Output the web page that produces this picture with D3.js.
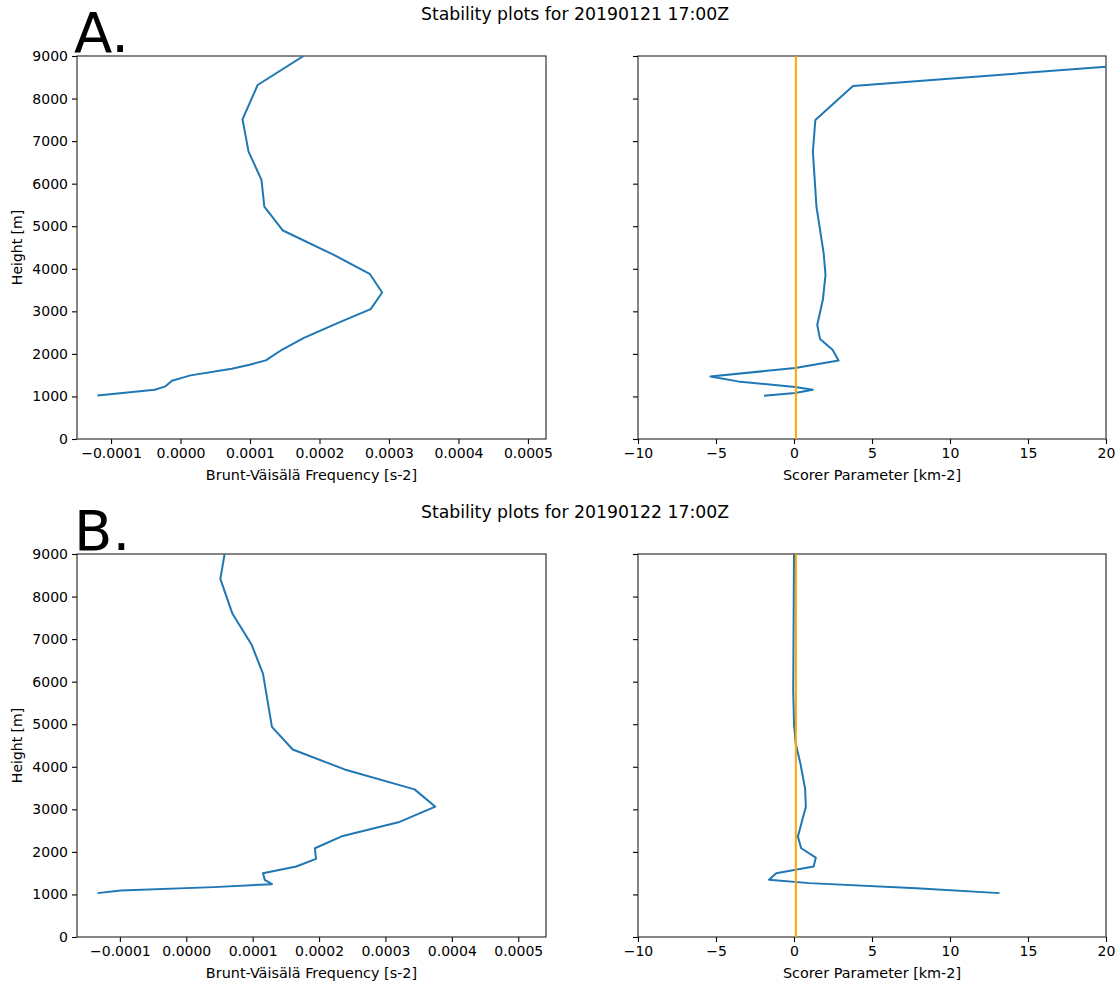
<!DOCTYPE html>
<html>
<head>
<meta charset="utf-8">
<script src="https://cdn.jsdelivr.net/npm/d3@7"></script>
<style>
  body { margin: 0; background: #fff; }
  text { font-family: "DejaVu Sans", sans-serif; fill: #000; }
</style>
</head>
<body>
<div id="chart"></div>
<script>
const width = 1119;
const height = 987;

// Case A: 20190121 17:00Z
const heightsA_bv = [9000, 8319, 7513, 6754, 6089, 5462, 4899, 4328, 3882, 3443, 3052, 2739, 2371, 2097, 1847, 1745, 1651, 1495, 1370, 1237, 1158, 1025];
const bvA = [0.000177, 0.000111, 0.0000892, 0.0000979, 0.0001165, 0.0001206, 0.0001474, 0.0002206, 0.0002722, 0.0002902, 0.0002737, 0.0002284, 0.0001768, 0.0001459, 0.0001227, 0.0000995, 0.0000737, 0.0000144, -0.0000124, -0.0000216, -0.0000371, -0.0001196];
const heightsA_sc = [8749, 8296, 7497, 6754, 5462, 4367, 3858, 3271, 2684, 2348, 2097, 1847, 1667, 1471, 1354, 1221, 1158, 1080, 1017];
const scorerA = [20.0, 3.78, 1.37, 1.21, 1.44, 1.90, 2.02, 1.85, 1.49, 1.67, 2.47, 2.86, 0.07, -5.36, -3.60, 0.07, 1.21, 0.07, -1.92];

// Case B: 20190122 17:00Z
const heightsB_bv = [9000, 8414, 7594, 6875, 6188, 4938, 4406, 3938, 3469, 3063, 2695, 2375, 2086, 1836, 1656, 1500, 1344, 1242, 1172, 1094, 1031];
const bvB = [0.0000577, 0.0000513, 0.0000696, 0.0000982, 0.0001155, 0.000129, 0.0001603, 0.0002385, 0.0003438, 0.0003751, 0.0003195, 0.0002358, 0.0001937, 0.0001954, 0.0001657, 0.0001155, 0.0001182, 0.000129, 0.0000416, -0.0000988, -0.0001338];
const heightsB_sc = [9000, 5797, 5016, 4547, 4078, 3492, 3063, 2359, 2086, 1867, 1656, 1500, 1344, 1266, 1148, 1031];
const scorerB = [0.0, -0.05, 0.0, 0.11, 0.41, 0.71, 0.76, 0.25, 0.46, 1.40, 1.26, -1.14, -1.60, 0.98, 7.85, 13.17];

const titles = ["Stability plots for 20190121 17:00Z", "Stability plots for 20190122 17:00Z"];
const panelLetters = ["A.", "B."];
const bvTicks = [-0.0001, 0, 0.0001, 0.0002, 0.0003, 0.0004, 0.0005];
const scorerTicks = [-10, -5, 0, 5, 10, 15, 20];
const heightTicks = [0, 1000, 2000, 3000, 4000, 5000, 6000, 7000, 8000, 9000];
const bvDomains = [[-0.000149, 0.000526], [-0.0001646, 0.0005418]];
const scorerDomain = [-10, 20];
const zeroLine = 0.12; // reference line in scorer panels

const rows = [
    { bv: bvA, bvH: heightsA_bv, sc: scorerA, scH: heightsA_sc, top: 56 },
    { bv: bvB, bvH: heightsB_bv, sc: scorerB, scH: heightsB_sc, top: 554 }
];

const panelH = 383;
const leftX = [77, 546];
const rightX = [638, 1106];

const svg = d3.select("#chart")
    .append("svg")
    .attr("width", width)
    .attr("height", height);

let clipId = 0;

function drawPanel(g, x, y, xTicks, xFormat, xLabel, showYLabels) {
    const clip = "clip" + (clipId++);
    g.append("clipPath").attr("id", clip)
        .append("rect")
        .attr("x", x.range()[0]).attr("y", y.range()[1])
        .attr("width", x.range()[1] - x.range()[0])
        .attr("height", y.range()[0] - y.range()[1]);

    const xAxis = g.append("g")
        .attr("transform", `translate(0,${y.range()[0]})`)
        .call(d3.axisBottom(x).tickValues(xTicks).tickFormat(xFormat).tickSize(5).tickPadding(4));
    const yAxis = g.append("g")
        .attr("transform", `translate(${x.range()[0]},0)`)
        .call(d3.axisLeft(y).tickValues(heightTicks).tickSize(5).tickPadding(4)
            .tickFormat(showYLabels ? d3.format("d") : ""));

    [xAxis, yAxis].forEach(a => {
        a.select(".domain").remove();
        a.selectAll("line").attr("stroke", "#000").attr("stroke-width", 1.1);
        a.selectAll("text").style("font-size", "14px").attr("fill", "#000");
    });

    // frame
    g.append("rect")
        .attr("x", x.range()[0]).attr("y", y.range()[1])
        .attr("width", x.range()[1] - x.range()[0])
        .attr("height", y.range()[0] - y.range()[1])
        .attr("fill", "none")
        .attr("stroke", "#222")
        .attr("stroke-width", 1.1);

    g.append("text")
        .attr("x", (x.range()[0] + x.range()[1]) / 2)
        .attr("y", y.range()[0] + 41)
        .attr("text-anchor", "middle")
        .style("font-size", "14.4px")
        .text(xLabel);

    if (showYLabels) {
        const cy = (y.range()[0] + y.range()[1]) / 2;
        g.append("text")
            .attr("transform", `translate(22,${cy}) rotate(-90)`)
            .attr("text-anchor", "middle")
            .style("font-size", "14px")
            .text("Height [m]");
    }
    return clip;
}

rows.forEach((r, i) => {
    const g = svg.append("g");
    const y = d3.scaleLinear().domain([0, 9000]).range([r.top + panelH, r.top]);

    // title and panel letter
    g.append("text")
        .attr("x", 575)
        .attr("y", r.top - 36)
        .attr("text-anchor", "middle")
        .style("font-size", "17.3px")
        .text(titles[i]);
    g.append("text")
        .attr("x", 74)
        .attr("y", r.top - 4)
        .style("font-size", "56px")
        .text(panelLetters[i]);

    // Brunt-Väisälä panel
    const xBv = d3.scaleLinear().domain(bvDomains[i]).range(leftX);
    const clipL = drawPanel(g, xBv, y, bvTicks, d3.format(".4f"), "Brunt-Väisälä Frequency [s-2]", true);
    const lineBv = d3.line().x(d => xBv(d[0])).y(d => y(d[1]));
    g.append("path")
        .datum(r.bv.map((v, k) => [v, r.bvH[k]]))
        .attr("clip-path", `url(#${clipL})`)
        .attr("d", lineBv)
        .attr("fill", "none")
        .attr("stroke", "#1f77b4")
        .attr("stroke-width", 2)
        .attr("stroke-linejoin", "round");

    // Scorer parameter panel
    const xSc = d3.scaleLinear().domain(scorerDomain).range(rightX);
    const clipR = drawPanel(g, xSc, y, scorerTicks, d3.format("d"), "Scorer Parameter [km-2]", false);
    const lineSc = d3.line().x(d => xSc(d[0])).y(d => y(d[1]));
    g.append("path")
        .datum(r.sc.map((v, k) => [v, r.scH[k]]))
        .attr("clip-path", `url(#${clipR})`)
        .attr("d", lineSc)
        .attr("fill", "none")
        .attr("stroke", "#1f77b4")
        .attr("stroke-width", 2)
        .attr("stroke-linejoin", "round");
    g.append("line")
        .attr("x1", xSc(zeroLine)).attr("x2", xSc(zeroLine))
        .attr("y1", y(0)).attr("y2", y(9000))
        .attr("stroke", "orange")
        .attr("stroke-width", 2);
});
</script>
</body>
</html>
